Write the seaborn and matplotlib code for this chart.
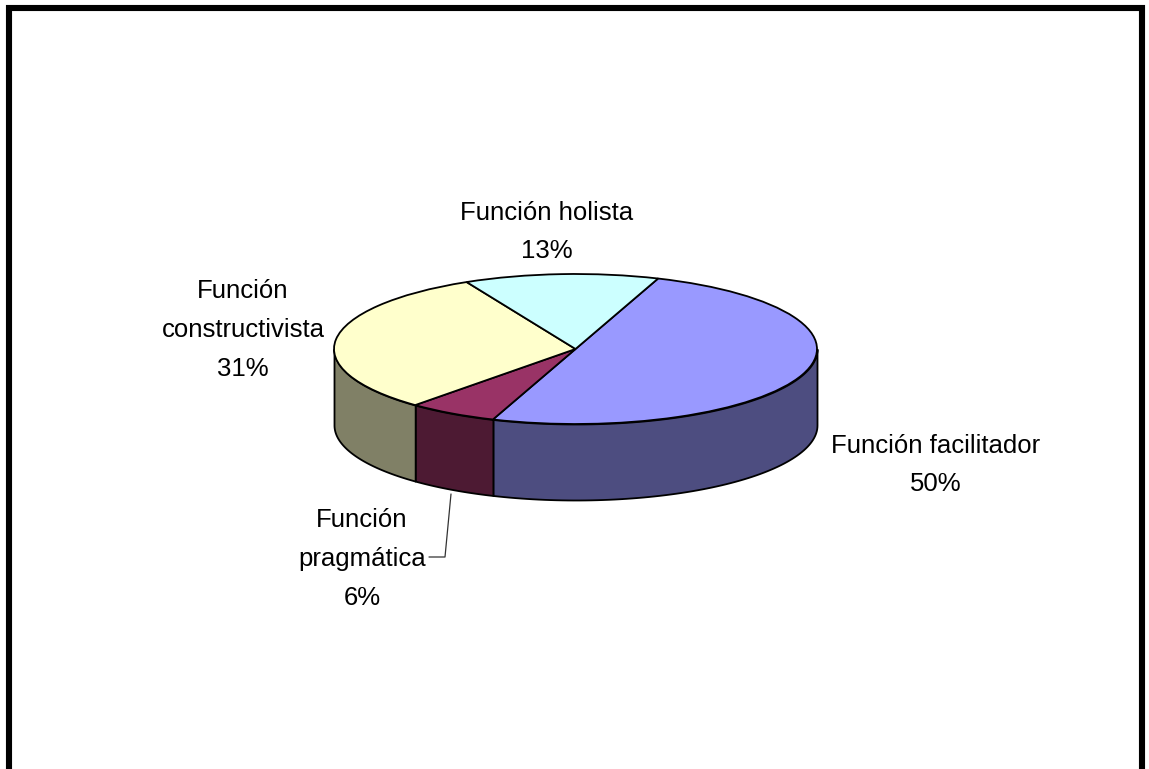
import matplotlib
matplotlib.use('Agg')
import matplotlib.pyplot as plt
import seaborn as sns
import numpy as np
from matplotlib.lines import Line2D
from matplotlib.patches import Rectangle

W, H = 1149, 769

labels = ['Función facilitador', 'Función pragmática', 'Función constructivista', 'Función holista']
values = [50, 6, 31, 13]
top_colors = ['#9999FF', '#993366', '#FFFFCC', '#CCFFFF']
side_colors = ['#4D4D80', '#4D1A33', '#808066', '#668080']
label_text = ['Función facilitador\n50%', 'Función\npragmática\n6%', 'Función\nconstructivista\n31%', 'Función holista\n13%']
label_pos = [(936, 465), (362, 559), (243, 330), (547, 232)]

sns.set_theme(style='white')
plt.rcParams['font.family'] = ['Liberation Sans']

fig = plt.figure(figsize=(W / 100, H / 100), dpi=100, facecolor='white')
ax = fig.add_axes([0, 0, 1, 1])

# pie centre and radii in pixels
cx, cy, rx, ry = 575.5, 349, 241.5, 75
depth = 76 / ry


def fx(x):
    return x / W


def fy(y):
    return 1 - y / H


# side walls, only the front half of the ellipse shows
start = 70
for val, col in zip(values, side_colors):
    end = start - val * 3.6
    a1, a2 = max(end, -180), min(start, 0)
    if a1 < a2:
        t = np.radians(np.linspace(a1, a2, 80))
        x = np.cos(t)
        y = np.sin(t)
        ax.fill_between(x, y, y - depth, facecolor=col, edgecolor='black', linewidth=1.3, zorder=1)
    start = end

ax.pie(values, colors=top_colors, startangle=70, counterclock=False, radius=1,
       wedgeprops={'edgecolor': 'black', 'linewidth': 1.3, 'zorder': 2})
ax.set_aspect('auto')
ax.set_xlim((0 - cx) / rx, (W - cx) / rx)
ax.set_ylim((cy - H) / ry, cy / ry)
ax.axis('off')

for txt, (px, py) in zip(label_text, label_pos):
    fig.text(fx(px), fy(py), txt, ha='center', va='center', fontsize=18.5, color='black', linespacing=1.78)

# leader line of the small slice
fig.add_artist(Line2D([fx(451), fx(445), fx(429)], [fy(494), fy(557), fy(557)], color='#333333', linewidth=0.9))

# chart frame, the bottom is cut by the image edge
fig.add_artist(Rectangle((fx(9), fy(770)), fx(1133), 762 / H, transform=fig.transFigure,
                         facecolor='none', edgecolor='black', linewidth=4.4, zorder=10))

fig.savefig('out.png', dpi=100)
